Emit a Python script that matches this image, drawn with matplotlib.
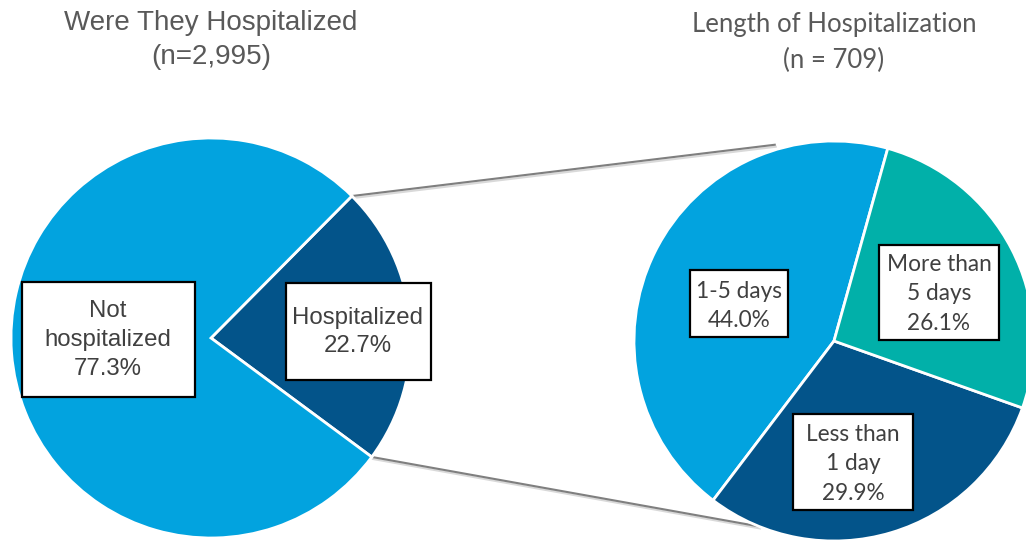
import matplotlib
matplotlib.use('Agg')
import matplotlib.pyplot as plt
from matplotlib.patches import Rectangle
import numpy as np

# 数据
left_labels = ['Hospitalized', 'Not\nhospitalized']
left_values = [22.7, 77.3]
right_labels = ['1-5 days', 'Less than\n1 day', 'More than\n5 days']
right_values = [44.0, 29.9, 26.1]

light_blue = '#02a3df'
dark_blue = '#03548a'
teal = '#01b0a9'
title_col = '#595959'
text_col = '#404040'

W, H = 1026, 542
fig = plt.figure(figsize=(W / 100, H / 100), dpi=100)
ax = fig.add_axes([0, 0, 1, 1])

def py(y):
    # 像素坐标(从上往下) -> 数据坐标
    return H - y

# 左边的饼图
lc, lr = (211, py(338)), 200
l_start = -36.5
lw_, _ = ax.pie(left_values, colors=[dark_blue, light_blue], startangle=l_start,
                counterclock=True, center=lc, radius=lr, frame=True,
                wedgeprops=dict(edgecolor='white', linewidth=2))

# 右边的饼图
rc, rr = (834, py(341)), 200
r_start = 74.4
rw_, _ = ax.pie(right_values, colors=[light_blue, dark_blue, teal], startangle=r_start,
                counterclock=True, center=rc, radius=rr, frame=True,
                wedgeprops=dict(edgecolor='white', linewidth=2))

# 连接线：从左边"Hospitalized"扇形两端到右边饼图
hw = lw_[0]
top_ang, bot_ang = np.radians(hw.theta2), np.radians(hw.theta1)
p_top = (lc[0] + lr * np.cos(top_ang), lc[1] + lr * np.sin(top_ang))
p_bot = (lc[0] + lr * np.cos(bot_ang), lc[1] + lr * np.sin(bot_ang))
q_top = (rc[0] + 205 * np.cos(np.radians(106.8)), rc[1] + 205 * np.sin(np.radians(106.8)))
q_bot = (rc[0] + rr * np.cos(np.radians(-112)), rc[1] + rr * np.sin(np.radians(-112)))
for p, q in [(p_top, q_top), (p_bot, q_bot)]:
    ax.plot([p[0] + 1, q[0] + 1], [p[1] - 2, q[1] - 2], color='#d9d9d9', lw=1.5, zorder=0.5)
    ax.plot([p[0], q[0]], [p[1], q[1]], color='#7f7f7f', lw=1.5, zorder=0.6)

# 标签框
def label_box(cx, cy, w, h, txt, dy=2, **kw):
    ax.add_patch(Rectangle((cx - w / 2, py(cy) - h / 2), w, h, facecolor='white',
                           edgecolor='black', linewidth=1.6, zorder=3))
    ax.text(cx, py(cy + dy), txt, ha='center', va='center', color=text_col, zorder=4, **kw)

arial = dict(family='Liberation Sans', fontsize=17.3, linespacing=1.4)
calib = dict(family='Lato', fontsize=16.3, linespacing=1.5)
label_box(358, 331, 145, 97, 'Hospitalized\n22.7%', dy=1, **arial)
label_box(108, 339, 173, 115, 'Not\nhospitalized\n77.3%', dy=1, **arial)
label_box(739, 303, 98, 67, '1-5 days\n44.0%', dy=3, **calib)
label_box(939, 292, 120, 95, 'More than\n5 days\n26.1%', dy=2, **calib)
label_box(853, 462, 120, 96, 'Less than\n1 day\n29.9%', dy=2, **calib)

# 标题
ax.text(211, py(40), 'Were They Hospitalized\n(n=2,995)', ha='center', va='center',
        color=title_col, family='Liberation Sans', fontsize=20, linespacing=1.42)
ax.text(834, py(42.5), 'Length of Hospitalization\n(n = 709)', ha='center', va='center',
        color=title_col, family='Lato', fontsize=18.5, linespacing=1.5)

ax.set_xlim(0, W)
ax.set_ylim(0, H)
ax.set_aspect('equal')
ax.axis('off')
fig.savefig('out.png', dpi=100)
